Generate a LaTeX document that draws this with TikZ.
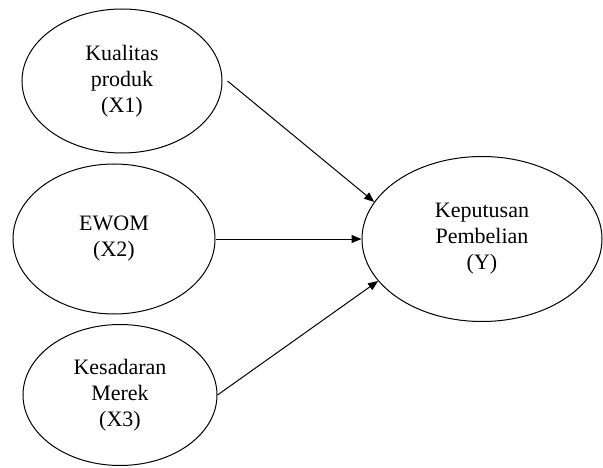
\documentclass[tikz,border=0pt]{standalone}
\usepackage{fontspec}
\setmainfont{Liberation Serif}
\usetikzlibrary{positioning,arrows.meta,shapes.geometric}
\tikzset{
  varnode/.style={draw,ellipse,line width=1pt,inner sep=0pt,align=center,
    font=\fontsize{22}{26}\selectfont},
  effect/.style={-{Triangle[length=10pt,width=8pt]},line width=1pt}
}

\begin{document}
\begin{tikzpicture}[x=1pt,y=1pt]
  \useasboundingbox (0,0) rectangle (603,467);
  \node[varnode,minimum width=200pt,minimum height=144pt] (x1) at (122,386) {Kualitas\\produk\\(X1)};
  \node[varnode,minimum width=202pt,minimum height=150pt] (x2) at (114,228) {EWOM\\(X2)};
  \node[varnode,minimum width=194pt,minimum height=141pt] (x3) at (120,72) {Kesadaran\\Merek\\(X3)};
  \node[varnode,minimum width=240pt,minimum height=165pt] (y) at (482,228) {Keputusan\\Pembelian\\(Y)};
  \draw[effect] ([xshift=5pt]x1.east) -- (y.161);
  \draw[effect] (x2.east) -- (y.west);
  \draw[effect] (x3.east) -- (y.202);
\end{tikzpicture}
\end{document}
